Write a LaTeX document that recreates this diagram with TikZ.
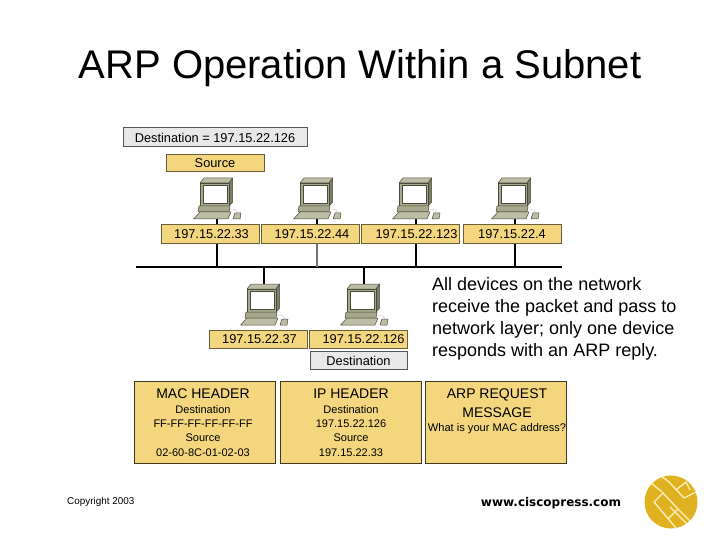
\documentclass[tikz,border=0pt]{standalone}
\usepackage{fontspec}
\setmainfont{Liberation Sans}
\newfontfamily\widefont{DejaVu Sans}
\definecolor{boxy}{HTML}{F4D67F}
\definecolor{boxg}{HTML}{E8E8E8}
\definecolor{edgey}{HTML}{6B5E3A}
\definecolor{edgeg}{HTML}{55565A}
\definecolor{pcface}{HTML}{A8A88C}
\definecolor{pctop}{HTML}{BDBDA5}
\definecolor{pcside}{HTML}{7E7E68}
\definecolor{pcedge}{HTML}{4A4A3C}
\definecolor{logoc}{HTML}{E1B21F}
\definecolor{logol}{HTML}{FBF0C0}
\tikzset{
  ybox/.style={draw=edgey,line width=1pt,fill=boxy,minimum width=98pt,minimum height=18pt,inner sep=0pt,font=\fontsize{12.8}{14}\selectfont},
  gbox/.style={draw=edgeg,line width=1pt,fill=boxg,inner sep=0pt,font=\fontsize{12.8}{14}\selectfont},
  hbox/.style={draw=edgey!60!black,line width=1pt,fill=boxy,minimum width=141pt,minimum height=82pt,inner sep=0pt},
  wire/.style={line width=2pt,black},
  wiregray/.style={line width=1.4pt,black!55},
  pcpart/.style={draw=pcedge,line width=.5pt,line join=round},
  pics/pcunit/.style={code={
    \fill[pcpart,fill=pctop] (-17,5) -- (-13,0) -- (15.7,0) -- (12,5) -- cycle;
    \fill[pcpart,fill=pcside] (12,5) -- (15.7,0) -- (15.7,24) -- (12,28) -- cycle;
    \fill[pcpart,fill=pcface] (-17,5) rectangle (12,28);
    \fill[pcpart,fill=white] (-14,7) rectangle (10,25);
    \fill[pcpart,fill=pcface] (-18,28) -- (13,28) -- (12,34) -- (-19,34) -- cycle;
    \fill[pcpart,fill=pctop] (-17,34) -- (14,34) -- (11,41) -- (-23.5,41) -- cycle;
    \fill[pcpart,fill=pctop] (16,41) -- (18,35) -- (24,35) -- (23,41) -- cycle;
    \draw[black!25,line width=.4pt] (13,31) .. controls (19,31) and (21,33) .. (21,35);
  }}
}
\begin{document}
\begin{tikzpicture}[x=1pt,y=-1pt]
\useasboundingbox (0,0) rectangle (720,540);
\node[anchor=base,font=\fontsize{40}{44}\selectfont] (title) at (360,79) {ARP Operation Within a Subnet};

\node[gbox,minimum width=184pt,minimum height=19pt] (dest) at (215,137.5) {Destination = 197.15.22.126};
\node[ybox,minimum height=17pt] (src) at (215,163.5) {Source};

% bus
\coordinate (busL) at (136,267);
\coordinate (busR) at (562,267);
\foreach \n/\x in {a/217,b/317,c/416,d/515,e/264,f/364}{\coordinate (bus\n) at (\x,267);}
\coordinate (pa) at (217,218);
\coordinate (pb) at (317,218);
\coordinate (pc) at (416,218);
\coordinate (pd) at (515,218);
\coordinate (pe) at (264,284);
\coordinate (pf) at (364,284);

\node[ybox] (la) at (210,234) {\hspace*{3pt}197.15.22.33};
\node[ybox] (lb) at (310.5,234) {\hspace*{3pt}197.15.22.44};
\node[ybox] (lc) at (410.5,234) {\hspace*{12pt}197.15.22.123};
\node[ybox] (ld) at (512,234) {197.15.22.4};
\node[ybox] (le) at (258,339.5) {\hspace*{3pt}197.15.22.37};
\node[ybox] (lf) at (358,339.5) {\hspace*{11pt}197.15.22.126};
\node[gbox,minimum width=97pt,minimum height=18pt] (lg) at (358.5,360.5) {Destination};

\draw[wire] (busL) -- (busR);
\draw[wire] (busa) -- (busa|-la.south);
\draw[wiregray] (busb) -- (busb|-lb.south);
\draw[wire] (busc) -- (busc|-lc.south);
\draw[wire] (busd) -- (busd|-ld.south);
\draw[wire] (buse) -- (pe);
\draw[wire] (busf) -- (pf);
\draw[wire] (pa) -- (pa|-la.north);
\draw[wire] (pb) -- (pb|-lb.north);
\draw[wire] (pc) -- (pc|-lc.north);
\draw[wire] (pd) -- (pd|-ld.north);

\pic at (217,178) {pcunit};
\pic at (317,178) {pcunit};
\pic at (416,178) {pcunit};
\pic at (515,178) {pcunit};
\pic at (264,284) {pcunit};
\pic at (364,284) {pcunit};

\node[hbox] (mac) at (205,422) {};
\node[hbox] (ip) at (351,422) {};
\node[hbox] (arp) at (496,422) {};
\tikzset{bigt/.style={font=\fontsize{14}{16}\selectfont},smallt/.style={font=\fontsize{11}{12}\selectfont}}
\node[bigt] (m1) at (203,394) {MAC HEADER};
\node[smallt] (m2) at (203,410) {Destination};
\node[smallt] (m3) at (203,424) {FF-FF-FF-FF-FF-FF};
\node[smallt] (m4) at (203,438) {Source};
\node[smallt] (m5) at (203,453) {02-60-8C-01-02-03};
\node[bigt] (i1) at (351,394) {IP HEADER};
\node[smallt] (i2) at (351,410) {Destination};
\node[smallt] (i3) at (351,424) {197.15.22.126};
\node[smallt] (i4) at (351,438) {Source};
\node[smallt] (i5) at (351,453) {197.15.22.33};
\node[bigt] (r1) at (497,395) {ARP REQUEST};
\node[bigt] (r2) at (497,413) {MESSAGE};
\node[font=\fontsize{11.1}{12}\selectfont] (r3) at (497,429) {What is your MAC address?};

\node[anchor=north west,align=left,inner sep=0pt,font=\fontsize{18}{22}\selectfont] (note) at (432,277.5) {All devices on the network\\receive the packet and pass to\\network layer; only one device\\responds with an ARP reply.};
\node[anchor=west,inner sep=0pt,font=\fontsize{9.9}{11}\selectfont] (copy) at (67,502) {Copyright 2003};
\node[anchor=center,inner sep=0pt,font=\widefont\bfseries\fontsize{12}{13}\selectfont] (www) at (551,503) {www.ciscopress.com};

% logo
\fill[logoc] (671,502) circle (26.5);
\begin{scope}
\clip (671,502) circle (26.5);
\draw[logol,line width=1.3pt,line join=round]
  (661,491) .. controls (652,484) and (650,483) .. (653,478)
  .. controls (656,473) and (664,477) .. (670,483) -- (684,498) (661,491) -- (678,509)
  (662,494) -- (654,502) -- (676,528)
  (678,509) -- (668,519) (684,498) -- (700,490)
  (676,490) -- (686,482) -- (690,490)
  (670,507) -- (690,527) (678,509) -- (696,527);
\end{scope}
\end{tikzpicture}
\end{document}
